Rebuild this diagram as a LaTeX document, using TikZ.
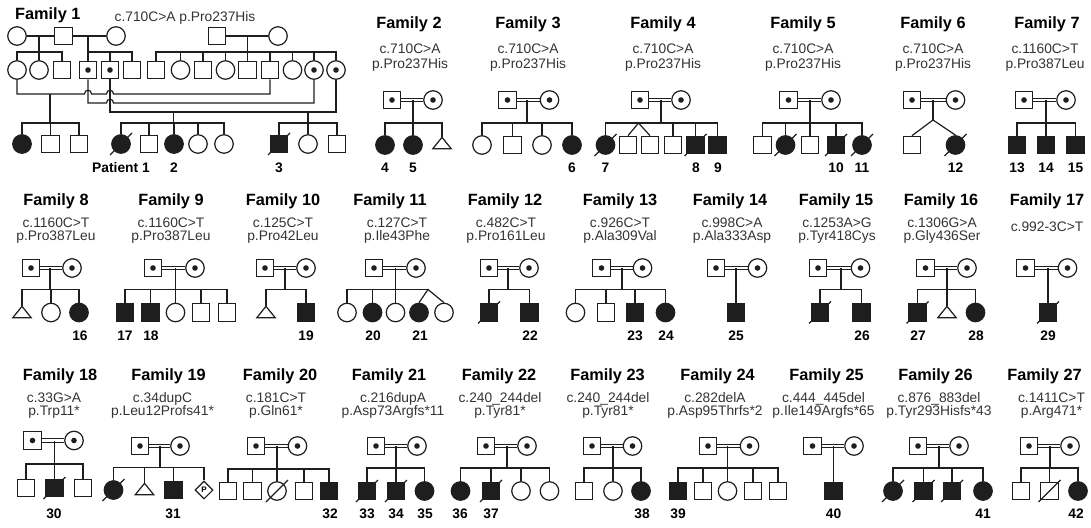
\documentclass[tikz,border=0pt]{standalone}
\usepackage{fontspec}
\setmainfont{Liberation Sans}
\usetikzlibrary{calc,shapes.geometric}
\definecolor{ink}{HTML}{1E1E1E}
\definecolor{muttext}{HTML}{333333}
\tikzset{
 ln/.style={draw=ink, line width=1.2pt},
 dbl/.style={draw=ink, line width=0.8pt},
 ml/.style={rectangle, draw=ink, line width=1.2pt, minimum size=17.5pt, inner sep=0pt, fill=white},
 fm/.style={circle, draw=ink, line width=1.2pt, minimum size=18.5pt, inner sep=0pt, fill=white},
 aff/.style={fill=ink},
 car/.style={path picture={\fill[ink] (path picture bounding box.center) circle (2.8pt);}},
 trb/.style={rectangle, minimum width=18pt, minimum height=11pt, inner sep=0pt},
 dia/.style={diamond, draw=ink, line width=1.1pt, minimum width=18pt, minimum height=18pt, inner sep=0pt, fill=white, font=\fontsize{8}{8}\selectfont\bfseries},
 ttl/.style={font=\fontsize{16.3}{18}\selectfont\bfseries, text=black, inner sep=0pt},
 mut/.style={font=\fontsize{13.8}{15}\selectfont, text=muttext, inner sep=0pt},
 num/.style={font=\fontsize{13.8}{15}\selectfont\bfseries, text=black, inner sep=0pt},
}
\newcommand\cpl[3]{%
 \draw[dbl] ([yshift=1.7pt]#1.east) -- ([yshift=1.7pt]#2.west);
 \draw[dbl] ([yshift=-1.7pt]#1.east) -- ([yshift=-1.7pt]#2.west);
 \draw[ln] (#3 |- #1.east) -- (#3);}
\newcommand\sib[3]{\draw[ln] (#1.north) -- (#1.north |- #3) -- (#2.north |- #3) -- (#2.north);}
\newcommand\kid[2]{\draw[ln] (#1.north) -- (#1.north |- #2);}
\newcommand\dcd[1]{\draw[ln] ([shift={(-11pt,-11pt)}]#1.center) -- ([shift={(11pt,11pt)}]#1.center);}
\newcommand\tri[2]{\node[trb] (#1) at (#2) {}; \draw[ln, fill=white] (#1.south west) -- (#1.north) -- (#1.south east) -- cycle;}
\newcommand\hdr[5]{%
 \node[ttl,anchor=base] (t#1) at (#2,\tY) {Family #1};
 \node[mut,anchor=base] (ma#1) at (#3,\mYa) {#4};
 \node[mut,anchor=base] (mb#1) at (#3,\mYb) {#5};}
\newcommand\lbl[2]{\node[num,anchor=base] (n#1) at (#2,\lY) {#1};}
\begin{document}
\begin{tikzpicture}[x=1pt,y=-1pt]
\useasboundingbox (0,0) rectangle (1091,527);
%% ---------------- Family 1
\node[ttl,anchor=base west] (t1) at (15,20) {Family 1};
\node[mut,anchor=base] (ma1) at (185,22) {c.710C>A p.Pro237His};
\node[fm] (a1) at (17,36) {};
\node[ml] (a2) at (63.5,36) {};
\node[fm] (a3) at (116,36) {};
\node[ml] (a4) at (217,36) {};
\node[fm] (a5) at (278,36) {};
\draw[ln] (a1.east) -- (a2.west);
\draw[ln] (a2.east) -- (a3.west);
\draw[ln] (a4.east) -- (a5.west);
\coordinate (ga) at (39,52); \coordinate (gb) at (88,52); \coordinate (gc) at (247.5,52);
\draw[ln] (ga |- a1.east) -- (ga);
\draw[ln] (gb |- a2.east) -- (gb);
\draw[ln] (gc |- a4.east) -- (gc);
\node[fm] (b1) at (17,70) {};
\node[fm] (b2) at (39,70) {};
\node[ml] (b3) at (62,70) {};
\node[ml,car] (b4) at (88,70) {};
\node[ml,car] (b5) at (110,70) {};
\node[ml] (b6) at (132,70) {};
\node[ml] (b7) at (156,70) {};
\node[fm] (b8) at (180.5,70) {};
\node[ml] (b9) at (203,70) {};
\node[fm] (b10) at (225.5,70) {};
\node[ml] (b11) at (247.5,70) {};
\node[ml] (b12) at (270,70) {};
\node[fm] (b13) at (292.5,70) {};
\node[fm,car] (b14) at (314,70) {};
\node[fm,car] (b15) at (336,70) {};
\sib{b1}{b3}{ga} \kid{b2}{ga}
\sib{b4}{b6}{gb} \kid{b5}{gb}
\sib{b7}{b15}{gc} \kid{b8}{gc} \kid{b9}{gc} \kid{b10}{gc} \kid{b11}{gc} \kid{b12}{gc} \kid{b13}{gc} \kid{b14}{gc}
\coordinate (ua) at (50,94); \coordinate (ub) at (173.5,112); \coordinate (uc) at (308,112);
\draw[ln] (b1.south) -- (b1.south |- ua) -- (84.5,94) .. controls (84.5,89) and (91.5,89) .. (91.5,94) -- (106.5,94) .. controls (106.5,89) and (113.5,89) .. (113.5,94) -- (b12.south |- ua) -- (b12.south);
\draw[ln] (b4.south) -- (88,103) -- (106.5,103) .. controls (106.5,98) and (113.5,98) .. (113.5,103) -- (314,103) -- (b14.south);
\draw[ln] (b5.south) -- (110,112) -- (336,112) -- (b15.south);
\coordinate (gd) at (50,123); \coordinate (ge) at (173.5,123); \coordinate (gf) at (308,123);
\draw[ln] (ua) -- (gd); \draw[ln] (ub) -- (ge); \draw[ln] (uc) -- (gf);
\node[fm,aff] (c1) at (22,144) {};
\node[ml] (c2) at (50.5,144) {};
\node[ml] (c3) at (79,144) {};
\node[fm,aff] (c4) at (121,144) {};
\node[ml] (c5) at (149,144) {};
\node[fm,aff] (c6) at (174,144) {};
\node[fm] (c7) at (198,144) {};
\node[fm] (c8) at (224,144) {};
\node[ml,aff] (c9) at (279,144) {};
\node[fm] (c10) at (308,144) {};
\node[ml] (c11) at (337,144) {};
\sib{c1}{c3}{gd} \kid{c2}{gd}
\sib{c4}{c8}{ge} \kid{c5}{ge} \kid{c6}{ge} \kid{c7}{ge}
\sib{c9}{c11}{gf} \kid{c10}{gf}
\dcd{c4} \dcd{c9}
\node[num,anchor=base] (np1) at (121,172) {Patient 1};
\node[num,anchor=base] (n2) at (174,172) {2};
\node[num,anchor=base] (n3) at (279,172) {3};
%% ---------------- Row 1
\def\tY{28.5}\def\mYa{54}\def\mYb{68.5}\def\lY{172}
% Family 2
\hdr{2}{409}{410}{c.710C>A}{p.Pro237His}
\node[ml,car] (p2m) at (392,100) {}; \node[fm,car] (p2f) at (433,100) {};
\coordinate (s2) at (413,123);
\node[fm,aff] (k2a) at (385,145) {}; \node[fm,aff] (k2b) at (413,145) {}; \tri{k2c}{442,143}
\cpl{p2m}{p2f}{s2} \sib{k2a}{k2c}{s2} \kid{k2b}{s2}
\lbl{4}{385} \lbl{5}{413}
% Family 3
\hdr{3}{528}{528}{c.710C>A}{p.Pro237His}
\node[ml,car] (p3m) at (507.5,100) {}; \node[fm,car] (p3f) at (549.5,100) {};
\coordinate (s3) at (527,123);
\node[fm] (k3a) at (482,145) {}; \node[ml] (k3b) at (512.5,145) {}; \node[fm] (k3c) at (542,145) {}; \node[fm,aff] (k3d) at (572,145) {};
\cpl{p3m}{p3f}{s3} \sib{k3a}{k3d}{s3} \kid{k3b}{s3} \kid{k3c}{s3}
\lbl{6}{572}
% Family 4
\hdr{4}{663}{663}{c.710C>A}{p.Pro237His}
\node[ml,car] (p4m) at (640,100) {}; \node[fm,car] (p4f) at (681,100) {};
\coordinate (s4) at (661,123); \coordinate (tw4) at (638.5,123);
\node[fm,aff] (k4a) at (605.5,145) {}; \node[ml] (k4b) at (628,145) {}; \node[ml] (k4c) at (650,145) {};
\node[ml] (k4d) at (673,145) {}; \node[ml,aff] (k4e) at (695.5,145) {}; \node[ml,aff] (k4f) at (717.5,145) {};
\cpl{p4m}{p4f}{s4} \sib{k4a}{k4f}{s4} \kid{k4d}{s4} \kid{k4e}{s4}
\draw[ln] (k4b.north) -- (tw4) -- (k4c.north);
\dcd{k4a} \dcd{k4e}
\lbl{7}{605.5} \lbl{8}{696} \lbl{9}{718}
% Family 5
\hdr{5}{803}{803}{c.710C>A}{p.Pro237His}
\node[ml,car] (p5m) at (788.5,100) {}; \node[fm,car] (p5f) at (831,100) {};
\coordinate (s5) at (810,123);
\node[ml] (k5a) at (762.5,145) {}; \node[fm,aff] (k5b) at (785.5,145) {}; \node[ml] (k5c) at (810,145) {};
\node[ml,aff] (k5d) at (836,145) {}; \node[fm,aff] (k5e) at (862,145) {};
\cpl{p5m}{p5f}{s5} \sib{k5a}{k5e}{s5} \kid{k5b}{s5} \kid{k5c}{s5} \kid{k5d}{s5}
\dcd{k5b} \dcd{k5d} \dcd{k5e}
\lbl{10}{836} \lbl{11}{862}
% Family 6
\hdr{6}{933}{933}{c.710C>A}{p.Pro237His}
\node[ml,car] (p6m) at (912,100) {}; \node[fm,car] (p6f) at (955.5,100) {};
\coordinate (s6) at (933,120);
\node[ml] (k6a) at (912,145) {}; \node[fm,aff] (k6b) at (955.5,145) {};
\cpl{p6m}{p6f}{s6} \draw[ln] (k6a.north) -- (s6) -- (k6b.north);
\dcd{k6b}
\lbl{12}{955.5}
% Family 7
\hdr{7}{1047}{1045}{c.1160C>T}{p.Pro387Leu}
\node[ml,car] (p7m) at (1024,100) {}; \node[fm,car] (p7f) at (1066,100) {};
\coordinate (s7) at (1046,123);
\node[ml,aff] (k7a) at (1017,145) {}; \node[ml,aff] (k7b) at (1046,145) {}; \node[ml,aff] (k7c) at (1075.5,145) {};
\cpl{p7m}{p7f}{s7} \sib{k7a}{k7c}{s7} \kid{k7b}{s7}
\lbl{13}{1017} \lbl{14}{1046} \lbl{15}{1075.5}
%% ---------------- Row 2
\def\tY{205}\def\mYa{227}\def\mYb{240.5}\def\lY{340}
% Family 8
\hdr{8}{56}{56}{c.1160C>T}{p.Pro387Leu}
\node[ml,car] (p8m) at (31,268) {}; \node[fm,car] (p8f) at (72,268) {};
\coordinate (s8) at (50,289.5);
\tri{k8a}{22,312} \node[fm] (k8b) at (51,312.5) {}; \node[fm,aff] (k8c) at (79,312.5) {};
\cpl{p8m}{p8f}{s8} \sib{k8a}{k8c}{s8} \kid{k8b}{s8}
\lbl{16}{80}
% Family 9
\hdr{9}{171}{171}{c.1160C>T}{p.Pro387Leu}
\node[ml,car] (p9m) at (153,268) {}; \node[fm,car] (p9f) at (195,268) {};
\coordinate (s9) at (175.5,289.5);
\node[ml,aff] (k9a) at (125,312.5) {}; \node[ml,aff] (k9b) at (150.5,312.5) {}; \node[fm] (k9c) at (175.5,312.5) {};
\node[ml] (k9d) at (201,312.5) {}; \node[ml] (k9e) at (227,312.5) {};
\cpl{p9m}{p9f}{s9} \sib{k9a}{k9e}{s9} \kid{k9b}{s9} \kid{k9c}{s9} \kid{k9d}{s9}
\lbl{17}{125} \lbl{18}{151}
% Family 10
\hdr{10}{283}{283}{c.125C>T}{p.Pro42Leu}
\node[ml,car] (p10m) at (265,268) {}; \node[fm,car] (p10f) at (306,268) {};
\coordinate (s10) at (285,289.5);
\tri{k10a}{266,312} \node[ml,aff] (k10b) at (306,312.5) {};
\cpl{p10m}{p10f}{s10} \sib{k10a}{k10b}{s10}
\lbl{19}{306}
% Family 11
\hdr{11}{390}{397}{c.127C>T}{p.Ile43Phe}
\node[ml,car] (p11m) at (374,268) {}; \node[fm,car] (p11f) at (416,268) {};
\coordinate (s11) at (395.5,289.5); \coordinate (tw11) at (428,289.5);
\node[fm] (k11a) at (347,312.5) {}; \node[fm,aff] (k11b) at (372.5,312.5) {}; \node[fm] (k11c) at (395.5,312.5) {};
\node[fm,aff] (k11d) at (419,312.5) {}; \node[fm] (k11e) at (444,312.5) {};
\cpl{p11m}{p11f}{s11}
\draw[ln] (k11a.north) -- (k11a.north |- s11) -- (tw11);
\kid{k11b}{s11} \kid{k11c}{s11}
\draw[ln] (k11d.north) -- (tw11) -- (k11e.north);
\lbl{20}{373} \lbl{21}{420}
% Family 12
\hdr{12}{505}{506}{c.482C>T}{p.Pro161Leu}
\node[ml,car] (p12m) at (489,268) {}; \node[fm,car] (p12f) at (529,268) {};
\coordinate (s12) at (508,289.5);
\node[ml,aff] (k12a) at (489,312.5) {}; \node[ml,aff] (k12b) at (529.5,312.5) {};
\cpl{p12m}{p12f}{s12} \sib{k12a}{k12b}{s12}
\dcd{k12a}
\lbl{22}{530}
% Family 13
\hdr{13}{620}{620}{c.926C>T}{p.Ala309Val}
\node[ml,car] (p13m) at (601.5,268) {}; \node[fm,car] (p13f) at (642.5,268) {};
\coordinate (s13) at (622,289.5);
\node[fm] (k13a) at (575.5,312.5) {}; \node[ml] (k13b) at (606,312.5) {}; \node[ml,aff] (k13c) at (635,312.5) {}; \node[fm,aff] (k13d) at (665.5,312.5) {};
\cpl{p13m}{p13f}{s13} \sib{k13a}{k13d}{s13} \kid{k13b}{s13} \kid{k13c}{s13}
\lbl{23}{635} \lbl{24}{666}
% Family 14
\hdr{14}{730}{732}{c.998C>A}{p.Ala333Asp}
\node[ml,car] (p14m) at (716,268) {}; \node[fm,car] (p14f) at (757.5,268) {};
\node[ml,aff] (k14) at (736,312.5) {};
\cpl{p14m}{p14f}{k14.north}
\lbl{25}{736}
% Family 15
\hdr{15}{836}{837}{c.1253A>G}{p.Tyr418Cys}
\node[ml,car] (p15m) at (818,268) {}; \node[fm,car] (p15f) at (860.5,268) {};
\coordinate (s15) at (841,289.5);
\node[ml,aff] (k15a) at (820,312.5) {}; \node[ml,aff] (k15b) at (861.5,312.5) {};
\cpl{p15m}{p15f}{s15} \sib{k15a}{k15b}{s15}
\dcd{k15a}
\lbl{26}{862}
% Family 16
\hdr{16}{941}{942}{c.1306G>A}{p.Gly436Ser}
\node[ml,car] (p16m) at (925.5,268) {}; \node[fm,car] (p16f) at (967,268) {};
\coordinate (s16) at (947,289.5);
\node[ml,aff] (k16a) at (917.5,312.5) {}; \tri{k16b}{947,312} \node[fm,aff] (k16c) at (975.5,312.5) {};
\cpl{p16m}{p16f}{s16} \sib{k16a}{k16c}{s16} \kid{k16b}{s16}
\dcd{k16a}
\lbl{27}{918} \lbl{28}{976}
% Family 17
\node[ttl,anchor=base] (t17) at (1047,\tY) {Family 17};
\node[mut,anchor=base] (ma17) at (1047,231) {c.992-3C>T};
\node[ml,car] (p17m) at (1025.5,268) {}; \node[fm,car] (p17f) at (1067.5,268) {};
\node[ml,aff] (k17) at (1048,312.5) {};
\cpl{p17m}{p17f}{k17.north}
\dcd{k17}
\lbl{29}{1048}
%% ---------------- Row 3
\def\tY{380}\def\mYa{402}\def\mYb{415.5}\def\lY{518}
% Family 18
\hdr{18}{60}{54}{c.33G>A}{p.Trp11*}
\node[ml,car] (p18m) at (32.5,440.5) {}; \node[fm,car] (p18f) at (74,440.5) {};
\coordinate (s18) at (54.5,464);
\node[ml] (k18a) at (26,488) {}; \node[ml,aff] (k18b) at (54.5,488) {}; \node[ml] (k18c) at (83,488) {};
\cpl{p18m}{p18f}{s18} \sib{k18a}{k18c}{s18} \kid{k18b}{s18}
\dcd{k18b}
\lbl{30}{54}
% Family 19
\hdr{19}{168.5}{162.5}{c.34dupC}{p.Leu12Profs41*}
\node[ml,car] (p19m) at (140,446) {}; \node[fm,car] (p19f) at (180,446) {};
\coordinate (s19) at (160,467.5);
\node[fm,aff] (k19a) at (113.5,490) {}; \tri{k19b}{144.5,489} \node[ml,aff] (k19c) at (173.5,490) {};
\node[dia] (k19d) at (204,490) {P};
\cpl{p19m}{p19f}{s19} \sib{k19a}{k19d}{s19} \kid{k19b}{s19} \kid{k19c}{s19}
\dcd{k19a}
\lbl{31}{173}
% Family 20
\hdr{20}{280}{276}{c.181C>T}{p.Gln61*}
\node[ml,car] (p20m) at (256,446) {}; \node[fm,car] (p20f) at (297.5,446) {};
\coordinate (s20) at (277,469);
\node[ml] (k20a) at (228,491) {}; \node[ml] (k20b) at (252.5,491) {}; \node[fm] (k20c) at (277,491) {};
\node[ml] (k20d) at (304,491) {}; \node[ml,aff] (k20e) at (329,491) {};
\cpl{p20m}{p20f}{s20} \sib{k20a}{k20e}{s20} \kid{k20b}{s20} \kid{k20c}{s20} \kid{k20d}{s20}
\dcd{k20c}
\lbl{32}{330}
% Family 21
\hdr{21}{389}{393}{c.216dupA}{p.Asp73Argfs*11}
\node[ml,car] (p21m) at (376,446) {}; \node[fm,car] (p21f) at (417,446) {};
\coordinate (s21) at (396,468);
\node[ml,aff] (k21a) at (367,491) {}; \node[ml,aff] (k21b) at (396,491) {}; \node[fm,aff] (k21c) at (424.5,491) {};
\cpl{p21m}{p21f}{s21} \sib{k21a}{k21c}{s21} \kid{k21b}{s21}
\dcd{k21a} \dcd{k21b}
\lbl{33}{367} \lbl{34}{396} \lbl{35}{425}
% Family 22
\hdr{22}{499}{500}{c.240\_244del}{p.Tyr81*}
\node[ml,car] (p22m) at (486,446) {}; \node[fm,car] (p22f) at (527,446) {};
\coordinate (s22) at (507,468);
\node[fm,aff] (k22a) at (460.5,491) {}; \node[ml,aff] (k22b) at (491,491) {}; \node[fm] (k22c) at (521,491) {}; \node[fm] (k22d) at (549.5,491) {};
\cpl{p22m}{p22f}{s22} \sib{k22a}{k22d}{s22} \kid{k22b}{s22} \kid{k22c}{s22}
\dcd{k22b}
\lbl{36}{460} \lbl{37}{491}
% Family 23
\hdr{23}{607.5}{608}{c.240\_244del}{p.Tyr81*}
\node[ml,car] (p23m) at (592,446) {}; \node[fm,car] (p23f) at (632.5,446) {};
\coordinate (s23) at (613,468);
\node[ml] (k23a) at (584,491) {}; \node[fm] (k23b) at (613,491) {}; \node[fm,aff] (k23c) at (641,491) {};
\cpl{p23m}{p23f}{s23} \sib{k23a}{k23c}{s23} \kid{k23b}{s23}
\lbl{38}{642}
% Family 24
\hdr{24}{717.5}{715}{c.282delA}{p.Asp95Thrfs*2}
\node[ml,car] (p24m) at (708,446) {}; \node[fm,car] (p24f) at (749.5,446) {};
\coordinate (s24) at (727.5,468);
\node[ml,aff] (k24a) at (678,491) {}; \node[ml] (k24b) at (703,491) {}; \node[fm] (k24c) at (727.5,491) {};
\node[ml] (k24d) at (753,491) {}; \node[ml] (k24e) at (778,491) {};
\cpl{p24m}{p24f}{s24} \sib{k24a}{k24e}{s24} \kid{k24b}{s24} \kid{k24c}{s24} \kid{k24d}{s24}
\lbl{39}{678}
% Family 25
\hdr{25}{826.5}{823.5}{c.444\_445del}{p.Ile149Argfs*65}
\node[ml,car] (p25m) at (812.5,446) {}; \node[fm,car] (p25f) at (854,446) {};
\node[ml,aff] (k25) at (833.5,491) {};
\cpl{p25m}{p25f}{k25.north}
\lbl{40}{833.5}
% Family 26
\hdr{26}{935.5}{939}{c.876\_883del}{p.Tyr293Hisfs*43}
\node[ml,car] (p26m) at (918,446) {}; \node[fm,car] (p26f) at (959,446) {};
\coordinate (s26) at (939,468);
\node[fm,aff] (k26a) at (893,491) {}; \node[ml,aff] (k26b) at (923.5,491) {}; \node[ml,aff] (k26c) at (952,491) {}; \node[fm,aff] (k26d) at (983,491) {};
\cpl{p26m}{p26f}{s26} \sib{k26a}{k26d}{s26} \kid{k26b}{s26} \kid{k26c}{s26}
\dcd{k26a} \dcd{k26b} \dcd{k26c}
\lbl{41}{983}
% Family 27
\hdr{27}{1044.5}{1051.5}{c.1411C>T}{p.Arg471*}
\node[ml,car] (p27m) at (1029,446) {}; \node[fm,car] (p27f) at (1070,446) {};
\coordinate (s27) at (1050,468);
\node[ml] (k27a) at (1021,491) {}; \node[ml] (k27b) at (1049.5,491) {}; \node[fm,aff] (k27c) at (1078,491) {};
\cpl{p27m}{p27f}{s27} \sib{k27a}{k27c}{s27} \kid{k27b}{s27}
\dcd{k27b}
\lbl{42}{1076}
\end{tikzpicture}
\end{document}
